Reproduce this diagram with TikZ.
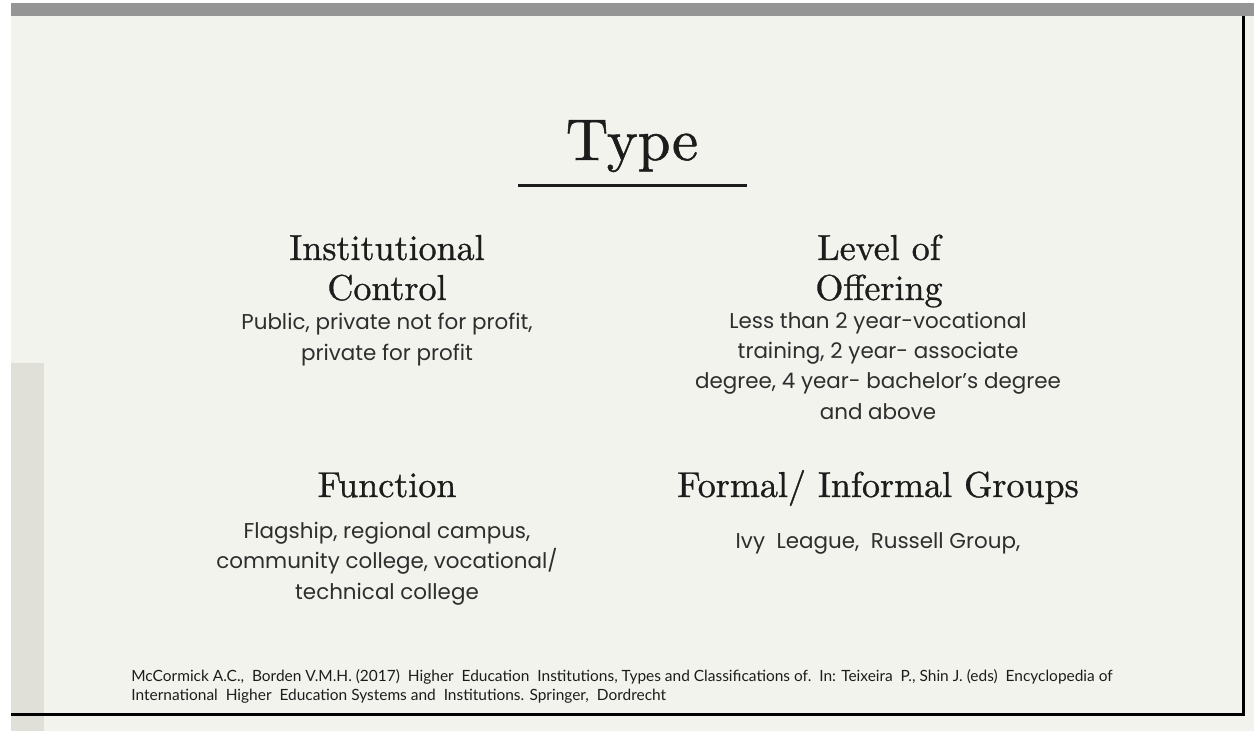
\documentclass[tikz,border=0pt]{standalone}
\usepackage{fontspec}
\newfontfamily\headfont{lmroman10-regular.otf}[FakeBold=0.9]
\newfontfamily\bodyfont{Poppins}
\newfontfamily\citefont{Lato}
\usepackage{tikz}

\definecolor{slidebg}{HTML}{F3F3EE}
\definecolor{sidebar}{HTML}{E0E0D8}
\definecolor{topbar}{HTML}{959595}
\definecolor{ink}{HTML}{1C1C1C}
\definecolor{bodyink}{HTML}{2E2E2E}

\tikzset{
  heading/.style={anchor=base, align=center, inner sep=0pt, text=ink,
    font=\headfont\fontsize{20.5}{22.8}\selectfont},
  blurb/.style={anchor=base, align=center, inner sep=0pt, text=bodyink,
    font=\bodyfont\fontsize{12.2}{17.1}\selectfont},
  reftext/.style={anchor=base west, align=left, inner sep=0pt, text=ink,
    font=\citefont\fontsize{8.8}{10.8}\selectfont}
}

\begin{document}
\begin{tikzpicture}[x=0.02cm, y=-0.02cm]
        \useasboundingbox (0,0) rectangle (1254,731);
        \fill[white] (0,0) rectangle (1254,731);
        \fill[slidebg] (11,3) rectangle (1254,731);
        \fill[topbar] (11,3) rectangle (1254,16);
        \fill[sidebar] (11,363) rectangle (44,731);
        \fill[black] (1242,16) rectangle (1245,716);
        \fill[black] (11,712.5) rectangle (1245,716);

        \node (title) [anchor=base, inner sep=0pt, text=ink,
          font=\headfont\fontsize{33.5}{40}\selectfont] at (632,160) {Type};
        \draw[ink, line width=3*0.02cm] (518,185.5) -- (747,185.5);

        \node (control) [heading] at (387,300) {Institutional\\Control};
        \node (controltxt) [blurb] at (387,360)
          {Public, private not for profit,\\private for profit};

        \node (level) [heading] at (879,300) {Level of\\Offering};
        \node (leveltxt) [blurb] at (878,419)
          {Less than 2 year-vocational\\training, 2 year- associate\\degree, 4 year- bachelor’s degree\\and above};

        \node (function) [heading] at (387,497) {Function};
        \node (functiontxt) [blurb] at (387,599)
          {Flagship, regional campus,\\community college, vocational/\\technical college};

        \node (groups) [heading] at (878,497) {Formal/ Informal Groups};
        \node (groupstxt) [blurb] at (878,548) {Ivy\ \ League,\ \ Russell Group,};

        \node (source) [reftext] at (131,700)
          {McCormick A.C.,\ \ Borden V.M.H. (2017)\ \ Higher\ \ Education\ \ Institutions, Types and Classifications of.\ \ In: Teixeira\ \ P., Shin J. (eds)\ \ Encyclopedia of\\International\ \ Higher\ \ Education Systems and\ \ Institutions. Springer,\ \ Dordrecht};
    \end{tikzpicture}
\end{document}
